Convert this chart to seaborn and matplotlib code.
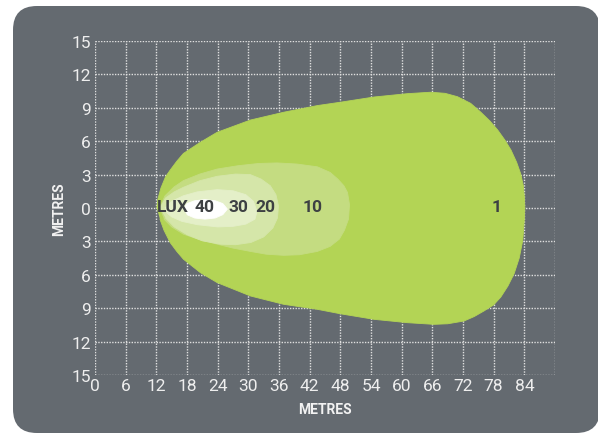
import numpy as np
import pandas as pd
import matplotlib
matplotlib.use("Agg")
import matplotlib.pyplot as plt
from matplotlib.patches import FancyBboxPatch
import seaborn as sns

# ---- data (isolux contour outlines, metres) ----
lux_levels = ["1", "10", "20", "30", "40"]

lux1_x = [12.1, 12.3, 12.9, 13.8, 14.7, 16.0, 17.3, 20.6, 23.9, 30.4, 36.9, 43.5, 48.0, 54.6, 61.1,
          65.7, 68.5, 70.9, 73.5, 75.5, 77.3, 78.8, 80.2, 81.4, 82.5, 83.3, 83.8, 84.0, 84.1,
          84.0, 83.7, 83.0, 82.0, 80.8, 79.4, 78.0, 76.1, 74.2, 72.2, 69.0, 66.3, 61.1, 54.6,
          48.0, 43.5, 36.9, 30.4, 23.9, 20.6, 17.3, 16.0, 14.7, 13.5, 12.7]
lux1_y = [0.0, 0.8, 1.8, 2.8, 3.4, 4.2, 4.9, 5.9, 6.8, 7.9, 8.6, 9.2, 9.5, 9.97, 10.27,
          10.4, 10.3, 10.0, 9.4, 8.6, 7.8, 7.0, 6.1, 5.2, 4.1, 3.06, 2.0, 1.0, 0.0,
          -1.0, -2.9, -4.5, -5.9, -7.0, -8.0, -8.7, -9.25, -9.75, -10.15, -10.4, -10.45, -10.3, -10.0,
          -9.5, -9.1, -8.65, -7.9, -6.7, -5.8, -4.6, -3.9, -3.1, -2.0, -1.0]

lux10_x = [12.6, 13.7, 15.5, 17.3, 20.5, 23.9, 28.0, 32.0, 35.6, 39.5, 43.5, 46.0, 47.5, 48.7, 49.4, 49.8,
           49.6, 48.8, 47.8, 46.0, 43.5, 40.0, 36.9, 33.5, 30.4, 27.0, 23.9, 20.5, 17.3, 15.0, 13.5]
lux10_y = [0.0, 1.1, 1.9, 2.46, 3.05, 3.5, 3.8, 4.0, 4.05, 3.95, 3.7, 3.2, 2.6, 2.0, 1.4, 0.3,
           -1.0, -2.0, -2.8, -3.45, -3.9, -4.2, -4.25, -4.15, -3.9, -3.6, -3.25, -2.85, -2.35, -1.7, -1.0]

lux20_x = [12.7, 13.8, 15.5, 17.3, 20.5, 23.9, 27.5, 30.4, 32.5, 34.3, 35.4, 35.9,
           35.7, 34.8, 33.0, 30.5, 27.5, 24.5, 21.0, 18.0, 15.5, 13.8]
lux20_y = [0.0, 0.9, 1.45, 1.86, 2.45, 2.85, 3.05, 3.0, 2.6, 2.0, 1.2, 0.2,
           -0.9, -1.8, -2.6, -3.1, -3.3, -3.25, -2.95, -2.4, -1.7, -0.9]

lux30_x = [13.7, 15.0, 17.3, 20.0, 23.9, 27.0, 29.5, 31.0, 31.7,
           31.3, 29.5, 27.0, 24.0, 20.0, 17.0, 15.0, 14.0]
lux30_y = [0.0, 0.6, 1.1, 1.45, 1.65, 1.55, 1.2, 0.6, -0.3,
           -1.0, -1.45, -1.65, -1.7, -1.5, -1.2, -0.8, -0.4]

lux40_x = [17.3, 18.0, 19.5, 21.5, 23.5, 25.0, 25.9, 25.0, 23.5, 21.5, 19.5, 18.0]
lux40_y = [-0.1, 0.4, 0.65, 0.75, 0.65, 0.4, -0.1, -0.6, -0.9, -1.0, -0.9, -0.6]

label_texts = ["LUX", "40", "30", "20", "10", "1"]
label_x = [15.2, 21.5, 28.0, 33.4, 42.5, 78.6]

x_ticks = list(range(0, 91, 6))
x_tick_labels = [str(v) for v in range(0, 85, 6)] + [""]
y_ticks = list(range(-15, 16, 3))
y_tick_labels = ["15", "12", "9", "6", "3", "0", "3", "6", "9", "12", "15"]

# ---- styling ----
panel_color = "#646a70"
fills = {
    "1": "#b3d455",
    "10": "#c4dc81",
    "20": "#d5e6a9",
    "30": "#e4efc8",
    "40": "#ffffff",
}
text_dark = "#3d4043"

sns.set_theme(style="dark", rc={
    "axes.facecolor": panel_color,
    "figure.facecolor": "white",
    "grid.color": "#e6e6e6",
})
plt.rcParams["font.family"] = ["Roboto", "DejaVu Sans"]

fig = plt.figure(figsize=(5.98, 4.35), dpi=100)

# rounded dark panel behind the chart
panel = FancyBboxPatch((13 / 598, 1 / 435), (600 - 13) / 598, (434 - 7) / 435,
                       boxstyle="round,pad=0,rounding_size=0.04",
                       transform=fig.transFigure, facecolor=panel_color,
                       edgecolor="none", zorder=-10, mutation_aspect=598 / 435)
fig.patches.append(panel)

ax = fig.add_axes([95 / 598, 1 - 376 / 435, (555 - 95) / 598, (376 - 42) / 435])
ax.set_zorder(5)
ax.set_facecolor(panel_color)

outlines = pd.DataFrame({
    "level": ["1"] * len(lux1_x) + ["10"] * len(lux10_x) + ["20"] * len(lux20_x)
             + ["30"] * len(lux30_x) + ["40"] * len(lux40_x),
    "x": lux1_x + lux10_x + lux20_x + lux30_x + lux40_x,
    "y": lux1_y + lux10_y + lux20_y + lux30_y + lux40_y,
})

for i, lvl in enumerate(lux_levels):
    d = outlines[outlines["level"] == lvl]
    ax.fill(d["x"], d["y"], color=fills[lvl], lw=0, zorder=2 + i)
    sns.lineplot(x=d["x"], y=d["y"], sort=False, estimator=None, ax=ax,
                 color=fills[lvl], lw=0.6, zorder=2 + i)

for t, xv in zip(label_texts, label_x):
    ax.text(xv, 0.15, t, ha="center", va="center", fontsize=12.5,
            fontweight="bold", color=text_dark, zorder=10)

ax.set_xlim(0, 90)
ax.set_ylim(-15, 15)
ax.set_xticks(x_ticks)
ax.set_xticklabels(x_tick_labels)
ax.set_yticks(y_ticks)
ax.set_yticklabels(y_tick_labels)
ax.tick_params(length=0, colors="#eeeeee", labelsize=12.5, pad=2)
ax.tick_params(axis="y", pad=3)
for s in ax.spines.values():
    s.set_visible(False)
ax.grid(True, color="#e0e0e0", linestyle=(0, (1, 1)), linewidth=1.0, zorder=1)
ax.set_axisbelow(True)

ax.set_xlabel("METRES", color="#f2f2f2", fontsize=10, fontweight="bold", labelpad=7)
ax.set_ylabel("METRES", color="#f2f2f2", fontsize=10, fontweight="bold", labelpad=4)

fig.savefig("out.png", dpi=100, facecolor="white")
